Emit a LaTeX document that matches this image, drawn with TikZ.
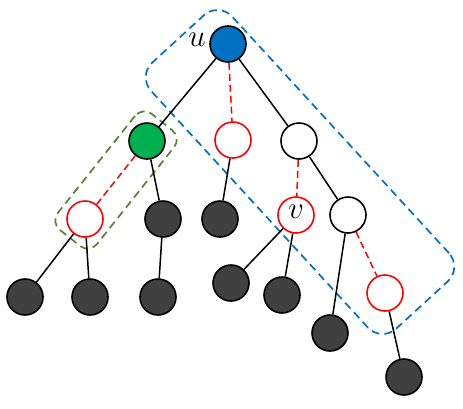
\documentclass[tikz,border=0pt]{standalone}
\usepackage{tikz}
\definecolor{ublue}{HTML}{0070C0}
\definecolor{ngreen}{HTML}{00B050}
\definecolor{ndark}{HTML}{404040}
\definecolor{bgreen}{HTML}{548235}
\tikzset{
  vtx/.style={circle, draw=black, line width=1.6pt, minimum size=36pt, inner sep=0pt},
  darkv/.style={vtx, fill=ndark},
  redv/.style={vtx, draw=red, fill=white},
  whitev/.style={vtx, fill=white},
  solidedge/.style={black, line width=1.5pt},
  redge/.style={red, line width=1.5pt, dash pattern=on 7pt off 4pt},
  groupbox/.style={draw, line width=1.7pt, dash pattern=on 8pt off 5pt, inner sep=0pt},
  vlabelstyle/.style={font=\huge, scale=1.5, inner sep=0pt},
}
\begin{document}
\begin{tikzpicture}[x=1pt,y=-1pt]
\useasboundingbox (0,0) rectangle (463,408);
% group boxes
\node[groupbox, draw=ublue, rounded corners=20pt, minimum width=361pt, minimum height=110pt, rotate=-47.5] (bluebox) at (300,172) {};
\node[groupbox, draw=bgreen, rounded corners=12pt, minimum width=148pt, minimum height=50pt, rotate=51.5] (greenbox) at (116,180) {};
% vertices
\node[vtx, fill=ublue] (u) at (228,44) {};
\node[vtx, fill=ngreen] (g) at (147,141) {};
\node[redv] (r1) at (233,140) {};
\node[whitev] (w1) at (299,141) {};
\node[redv] (r2) at (85,219) {};
\node[darkv] (d1) at (163,219) {};
\node[darkv] (d2) at (220,219) {};
\node[redv] (v) at (296,215) {};
\node[whitev] (w2) at (348,215) {};
\node[darkv] (l1) at (25,297) {};
\node[darkv] (l2) at (90,297) {};
\node[darkv] (l3) at (158,297) {};
\node[darkv] (l4) at (231,283) {};
\node[darkv] (l5) at (282,295) {};
\node[darkv] (l6) at (330,333) {};
\node[redv] (r3) at (385,293) {};
\node[darkv] (l7) at (404,377) {};
% labels
\node[vlabelstyle] (ulabel) at (197,40) {$u$};
\node[vlabelstyle] (vlabel) at (296,212) {$v$};
% edges
\draw[solidedge] (u) -- (g);
\draw[redge] (u) -- (r1);
\draw[solidedge] (u) -- (w1);
\draw[redge] (g) -- (r2);
\draw[solidedge] (g) -- (d1);
\draw[solidedge] (r1) -- (d2);
\draw[redge] (w1) -- (v);
\draw[solidedge] (w1) -- (w2);
\draw[solidedge] (r2) -- (l1);
\draw[solidedge] (r2) -- (l2);
\draw[solidedge] (d1) -- (l3);
\draw[solidedge] (v) -- (l4);
\draw[solidedge] (v) -- (l5);
\draw[solidedge] (w2) -- (l6);
\draw[redge] (w2) -- (r3);
\draw[solidedge] (r3) -- (l7);
\end{tikzpicture}
\end{document}
